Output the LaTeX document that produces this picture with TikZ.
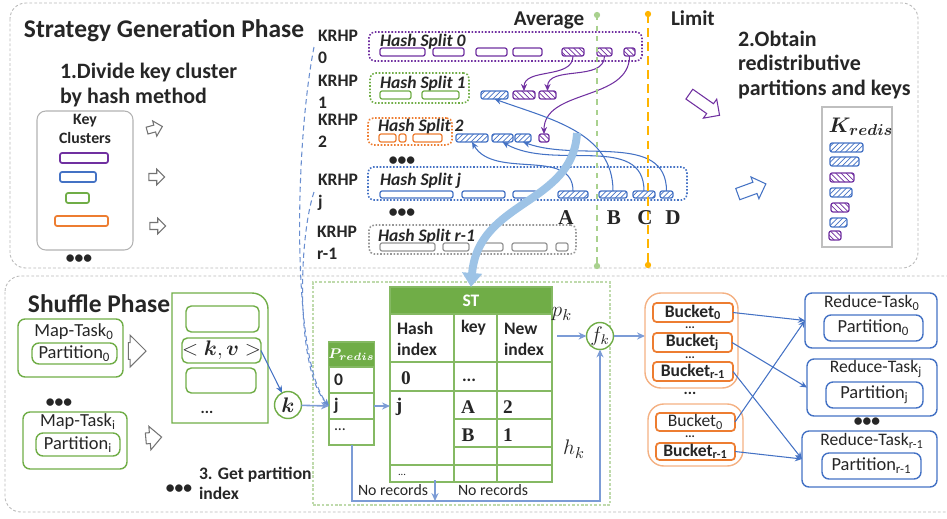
\documentclass[tikz,border=0pt]{standalone}
\usepackage{fontspec}
\setmainfont{Carlito}
\newfontfamily\timesf{Liberation Serif}
\usepackage{amsmath}
\usepackage{xcolor}
\definecolor{kpurple}{RGB}{112,48,160}
\definecolor{kblue}{RGB}{68,114,196}
\definecolor{kgreen}{RGB}{112,173,71}
\definecolor{korange}{RGB}{237,125,49}
\definecolor{kgray}{RGB}{150,150,150}
\definecolor{klightblue}{RGB}{157,195,230}
\definecolor{kavg}{RGB}{169,209,142}
\definecolor{klimit}{RGB}{255,180,0}
\definecolor{kpeach}{RGB}{244,177,131}
\definecolor{ktext}{RGB}{38,38,38}
\usepackage{tikz}
\usetikzlibrary{positioning,shapes.arrows,arrows.meta,patterns,calc}
\newcommand{\fsz}[2]{\fontsize{#1}{#2}\selectfont}
% caja por esquinas: estilo, nombre, x1, x2, y1, y2 (+ texto)
\newcommand{\kbox}[6]{\node[#1,minimum width={(#4-#3)*0.02cm},minimum height={(#6-#5)*0.02cm}] (#2) at ({(#3+#4)/2},{(#5+#6)/2}) {};}
\newcommand{\tbox}[7]{\node[#1,minimum width={(#4-#3)*0.02cm},minimum height={(#6-#5)*0.02cm}] (#2) at ({(#3+#4)/2},{(#5+#6)/2}) {#7};}

\begin{document}
\begin{tikzpicture}[x=0.02cm,y=-0.02cm,font=\fsz{10}{12},
  every node/.style={text=ktext,inner sep=0pt,outer sep=0pt},
  panel/.style={draw=gray!55,dash pattern=on 1.6pt off 1.2pt,rounded corners=9pt,line width=0.5pt},
  bar/.style={draw=#1,rounded corners=1.2pt,line width=0.7pt},
  pbar/.style={bar=#1,fill=white},
  hbar/.style={bar=#1,pattern=north east lines,pattern color=#1},
  vbar/.style={bar=#1,pattern=north west lines,pattern color=#1},
  splitbox/.style={draw=#1,densely dotted,rounded corners=3pt,line width=0.9pt},
  krhp/.style={anchor=west,align=left,font=\fsz{10}{12.5}\bfseries},
  splitlbl/.style={anchor=base west,font=\fsz{10}{12}\bfseries\itshape},
  letter/.style={anchor=base,font=\timesf\bfseries\fsz{12}{14}},
  dotrow/.style={font=\fsz{10}{10}\bfseries},
  smalldots/.style={font=\fsz{9}{9}\bfseries},
  tinydots/.style={font=\fsz{7}{7}\bfseries},
  harrow/.style={single arrow,draw=#1,fill=white,line width=0.6pt,minimum width=0pt},
  parr/.style={kpurple,line width=0.6pt,-{Stealth[length=4pt,width=3.5pt]}},
  barr/.style={kblue,line width=0.6pt,-{Stealth[length=4pt,width=3.5pt]}},
  larr/.style={kblue!70,line width=0.9pt,-{Stealth[length=4.5pt,width=4pt]}},
  tline/.style={draw=kgreen!85,line width=0.7pt},
  cell/.style={anchor=west,font=\fsz{10}{12}\bfseries},
  scell/.style={anchor=center,font=\timesf\bfseries\fsz{11}{13}},
  gbox/.style={draw=kgreen,rounded corners=4pt,line width=0.8pt},
  rbox/.style={draw=kblue,rounded corners=4pt,line width=0.8pt},
  bkt/.style={draw=korange,rounded corners=2pt,line width=1pt,font=\fsz{10}{11}\bfseries},
  bgrp/.style={draw=kpeach,rounded corners=9pt,line width=0.8pt},
  circ/.style={circle,draw=kgreen,line width=0.8pt,fill=white,minimum size=0.54cm},
]
\useasboundingbox (0,0) rectangle (947,518);
% paneles
\draw[panel] (10,3) rectangle (918,268);
\draw[panel] (5,276) rectangle (975,512);

% fase de estrategia
\node[anchor=base west,font=\fsz{14.5}{16}\bfseries] (sgp) at (24,37) {Strategy Generation Phase};
\node[anchor=west,align=left,font=\fsz{12.5}{14.7}\bfseries] (step1) at (60,85) {1.Divide key cluster\\by hash method};
\kbox{draw=gray!60,rounded corners=5pt,line width=0.6pt}{kcbox}{37}{133}{111}{250}
\node[align=center,font=\fsz{9}{10.8}\bfseries] (kclbl) at (85,129) {Key\\Clusters};
\kbox{pbar=kpurple,line width=1pt}{kc1}{60}{108}{153}{163}
\kbox{pbar=kblue,line width=1pt}{kc2}{60}{96}{172}{182}
\kbox{pbar=kgreen,line width=1pt}{kc3}{66}{89}{193}{203}
\kbox{pbar=korange,line width=1pt}{kc4}{55}{108}{216}{226}
\node[dotrow] (kcdots) at (79,259) {•••};
\node[harrow=black!55,single arrow head extend=2.5pt,inner ysep=1.7pt,minimum height=9pt,rotate=15] (ha1) at (153,129) {};
\node[harrow=black!55,single arrow head extend=2.5pt,inner ysep=1.7pt,minimum height=9pt] (ha2) at (155,177) {};
\node[harrow=black!55,single arrow head extend=2.5pt,inner ysep=1.7pt,minimum height=9pt] (ha3) at (156,226) {};

% etiquetas KRHP
\node[krhp] (krhp0) at (318,47) {KRHP\\0};
\node[krhp] (krhp1) at (318,92) {KRHP\\1};
\node[krhp] (krhp2) at (318,131) {KRHP\\2};
\node[krhp] (krhpj) at (318,192) {KRHP\\j};
\node[krhp] (krhpr) at (317,243) {KRHP\\r-1};

% Hash Split 0
\kbox{splitbox=kpurple}{s0}{369}{642}{32}{61}
\node[splitlbl] (s0l) at (380,46) {Hash Split 0};
\foreach \a/\b [count=\i] in {380/425,433/464,476/507,513/542} {\kbox{pbar=kpurple}{s0p\i}{\a}{\b}{48}{56}}
\foreach \a/\b [count=\i] in {562/584,597/612,624/635} {\kbox{vbar=kpurple}{s0h\i}{\a}{\b}{48}{56}}
% Hash Split 1
\kbox{splitbox=kgreen}{s1}{370}{469}{73}{103}
\node[splitlbl] (s1l) at (380,88) {Hash Split 1};
\foreach \a/\b [count=\i] in {380/411,422/459} {\kbox{pbar=kgreen}{s1g\i}{\a}{\b}{91}{99}}
\kbox{hbar=kblue}{s1b1}{481}{508}{91}{99}
\foreach \a/\b [count=\i] in {513/535,539/556} {\kbox{vbar=kpurple}{s1v\i}{\a}{\b}{91}{99}}
% Hash Split 2
\kbox{splitbox=korange}{s2}{368}{452}{118}{145}
\node[splitlbl] (s2l) at (378,131) {Hash Split 2};
\foreach \a/\b [count=\i] in {379/396,399/406,413/442} {\kbox{pbar=korange}{s2o\i}{\a}{\b}{134}{142}}
\foreach \a/\b [count=\i] in {456/488,492/513,515/531} {\kbox{hbar=kblue}{s2b\i}{\a}{\b}{134}{142}}
\kbox{vbar=kpurple}{s2v1}{539}{549}{134}{142}
\node[dotrow] (sdots1) at (402,161) {•••};
% Hash Split j
\kbox{splitbox=kblue}{sj}{368}{687}{167}{200}
\node[splitlbl] (sjl) at (380,185) {Hash Split j};
\foreach \a/\b [count=\i] in {380/453,462/505,513/537} {\kbox{pbar=kblue}{sjp\i}{\a}{\b}{191}{198}}
\foreach \n/\a/\b in {A/558/588,B/599/627,C/633/655,D/660/673} {\kbox{hbar=kblue}{sj\n}{\a}{\b}{191}{198}}
\node[dotrow] (sdots2) at (402,213) {•••};
% Hash Split r-1
\kbox{splitbox=kgray}{sr}{369}{576}{225}{254}
\node[splitlbl] (srl) at (378,241) {Hash Split r-1};
\foreach \a/\b [count=\i] in {380/435,443/469,478/503,512/547,556/568} {\kbox{pbar=kgray}{sr\i}{\a}{\b}{243}{251}}

% flechas entre splits
\draw[parr] (s0h1.south) to[out=-90,in=90] (s1v1.north);
\draw[parr] (s0h2.south) to[out=-90,in=90] (s1v2.north);
\draw[parr] (s0h3.south) to[out=-90,in=90] (s2v1.north);
\draw[barr] (sjA.north) to[out=90,in=-60] (s2b1.south);
\draw[barr] (sjB.north) to[out=90,in=-20] (s1b1.south);
\draw[barr] (sjC.north) to[out=90,in=-30] (s2b2.south);
\draw[barr] (sjD.north) to[out=90,in=-20] (s2b3.south);

% Average / Limit
\draw[kavg,dashed,line width=1.3pt] (597,15) -- (597,266);
\fill[kavg] (597,15) circle[radius=1.8pt] (597,266) circle[radius=1.8pt];
\draw[klimit,dash pattern=on 5pt off 3pt,line width=1.4pt] (648,14) -- (648,265);
\fill[klimit] (648,14) circle[radius=1.8pt] (648,265) circle[radius=1.8pt];
\node[font=\fsz{12}{14}\bfseries] (avg) at (549,20) {Average};
\node[anchor=west,font=\fsz{12}{14}\bfseries] (lim) at (671,18) {Limit};
\foreach \l/\x in {A/566,B/614,C/645,D/673} {\node[letter] (lt\l) at (\x,224) {\l};}

% redistribucion
\node[harrow=kpurple,minimum height=21pt,inner ysep=3.1pt,single arrow head extend=3.2pt,rotate=-35] (pa) at (702,103) {};
\node[harrow=kblue,minimum height=17pt,inner ysep=3.1pt,single arrow head extend=3.2pt,rotate=20] (ba) at (749,190) {};
\node[anchor=west,align=left,font=\fsz{12.5}{14.2}\bfseries] (step2) at (738,65) {2.Obtain\\redistributive\\partitions and keys};
\kbox{draw=gray!50,line width=0.6pt}{kr}{822}{892}{107}{247}
\node[font=\fsz{13}{15}] (krl) at (861,127) {$\boldsymbol{K_{redis}}$};
\foreach \c/\p/\a/\b/\y [count=\i] in {kblue/north east lines/830/863/143,kblue/north east lines/830/859/157,kpurple/north west lines/830/854/173,kblue/north east lines/830/852/188,kpurple/north west lines/831/849/203,kblue/north east lines/830/847/218,kpurple/north west lines/829/841/231}
  {\kbox{bar=\c,pattern=\p,pattern color=\c}{kr\i}{\a}{\b}{\y}{\y+9}}

% fase shuffle
\node[anchor=base west,font=\fsz{14.5}{16}\bfseries] (shp) at (28,312) {Shuffle Phase};
\kbox{gbox}{mt0}{18}{123}{319}{377}
\node[font=\fsz{10.5}{12}] (mt0l) at (74,332) {Map-Task\textsubscript{0}};
\tbox{gbox,font=\fsz{10.5}{12}}{pt0}{32}{117}{343}{364}{Partition\textsubscript{0}}
\node[dotrow] (mtdots) at (59,403) {•••};
\kbox{gbox}{mti}{23}{127}{412}{469}
\node[font=\fsz{10.5}{12}] (mtil) at (78,422) {Map-Task\textsubscript{i}};
\tbox{gbox,font=\fsz{10.5}{12}}{pti}{36}{120}{433}{456}{Partition\textsubscript{i}}
\node[harrow=black!55,minimum height=10pt,inner ysep=4.5pt,single arrow head extend=4.2pt] (ma0) at (133,351) {};
\node[harrow=black!55,minimum height=9pt,inner ysep=2.8pt,single arrow head extend=3.6pt,rotate=5] (mai) at (151,438) {};

% buffer
\draw[kgreen,line width=0.8pt] (172,423) -- (172,293) -- (252,293) to[out=0,in=90] (268,309) -- (268,423) -- cycle;
\kbox{gbox,rounded corners=3pt}{bf1}{186}{259}{306}{332}
\tbox{gbox,rounded corners=3pt,font=\fsz{12}{14}}{kv}{185}{258}{338}{363}{$<\boldsymbol{k},\boldsymbol{v}>$}
\kbox{gbox,rounded corners=3pt}{bf3}{186}{256}{368}{393}
\node[smalldots] (bfdots) at (207,412) {...};
\node[circ,font=\fsz{12}{14}] (kn) at (288,405) {$\boldsymbol{k}$};
\draw[barr] (kv.east) -- (kn);
\node[anchor=west,align=left,font=\fsz{10}{11.3}\bfseries] (step3) at (199,483) {3. Get partition\\index};
\node[dotrow] (s3dots) at (179,489) {•••};

% tablas P_redis y ST
\kbox{draw=kgreen!45,dash pattern=on 1.5pt off 1pt,line width=0.6pt}{starea}{313}{610}{282}{505}
\tbox{fill=kgreen,draw=kgreen!85,line width=0.7pt,text=white,font=\fsz{8.5}{10}}{ph}{329}{374}{342}{367}{$\boldsymbol{P_{redis}}$}
\draw[tline] (329,367) rectangle (374,445) (329,393) -- (374,393) (329,419) -- (374,419);
\node[cell] (p0) at (334,380) {0};
\node[cell] (pjl) at (334,406) {j};
\node[cell,font=\fsz{9}{10}] (pdl) at (334,430) {...};
\coordinate (pjin) at (329,406);
\coordinate (pjout) at (374,406);
\coordinate (pbot) at (352,445);
\tbox{fill=kgreen,draw=kgreen!85,line width=0.7pt,text=white,font=\fsz{10}{12}\bfseries}{sthead}{390}{552}{287}{314}{ST}
\draw[tline] (390,314) rectangle (552,482) (454,314) -- (454,482) (497,314) -- (497,482);
\draw[tline] (390,362) -- (552,362) (390,391) -- (552,391) (454,419) -- (552,419) (454,447) -- (552,447) (390,465) -- (552,465);
\node[cell,align=left] (sth1) at (397,339) {Hash\\index};
\node[cell] (sth2) at (461,328) {key};
\node[cell,align=left] (sth3) at (504,339) {New\\index};
\node[scell] (st0) at (406,378) {0};
\node[cell] (st0k) at (462,380) {...};
\node[scell] (stj) at (399,407) {j};
\node[scell] (stA) at (468,407) {A};
\node[scell] (st2) at (508,407) {2};
\node[scell] (stB) at (468,435) {B};
\node[scell] (st1) at (508,435) {1};
\node[font=\fsz{6}{7}] (stdots) at (402,475) {...};
\coordinate (stjin) at (390,406);
\coordinate (stbot) at (435,480);

% calculo de f_k
\node[circ,font=\fsz{12}{14}] (fk) at (600,336) {$f_k$};
\node[font=\fsz{13}{15}] (pk) at (562,314) {$p_k$};
\node[font=\fsz{13}{15}] (hk) at (574,449) {$h_k$};
\coordinate (pkin) at (557,336);
\coordinate (nrr) at (600,501);
\draw[larr] (kn) -- (pjin);
\draw[larr] (pjout) -- (stjin);
\draw[larr] (pkin) -- (fk);
\draw[larr] (pbot) |- (nrr) -- (fk.south);
\draw[larr] (stbot) -- (stbot |- nrr);
\node[font=\fsz{9}{11}] (nr1) at (393,490) {No records};
\node[font=\fsz{9}{11}] (nr2) at (493,490) {No records};

% KRHP hacia P_redis
\draw[kblue!80,densely dashed,line width=0.6pt,-{Stealth[length=4pt]}] ($(krhp0.west)+(-4,0)$) .. controls (294,150) and (292,360) .. (pjin);
\draw[kblue!80,densely dashed,line width=0.6pt,-{Stealth[length=4pt]}] ($(krhpj.west)+(-4,0)$) .. controls (298,240) and (296,370) .. (pjin);

% flecha grande hacia ST
\coordinate (arcs) at (577,133);
\draw[klightblue,line width=4.5pt,-{Triangle[length=8pt,width=11pt]}] (arcs) .. controls (573,205) and (478,200) .. (sthead.north);

% buckets
\draw[larr] (fk) -- (fk -| 645,0);
\kbox{bgrp}{bg1}{645}{738}{293}{388}
\tbox{bkt}{b10}{653}{733}{303}{322}{Bucket\textsubscript{0}}
\node[tinydots] (bd1) at (690,328) {...};
\tbox{bkt}{b1j}{653}{732}{333}{352}{Bucket\textsubscript{j}}
\node[tinydots] (bd2) at (690,357.5) {...};
\tbox{bkt}{b1r}{653}{733}{362}{381}{Bucket\textsubscript{r-1}}
\node[smalldots] (bd3) at (690,393) {...};
\kbox{bgrp}{bg2}{648}{743}{404}{466}
\tbox{bkt,font=\fsz{10}{11}}{b20}{656}{735}{413}{431}{Bucket\textsubscript{0}}
\node[tinydots] (bd4) at (690,437) {...};
\tbox{bkt}{b2r}{656}{735}{443}{460}{Bucket\textsubscript{r-1}}

% reduce
\kbox{rbox}{r0}{805}{937}{293}{348}
\node[font=\fsz{10}{12}] (r0l) at (872,303) {Reduce-Task\textsubscript{0}};
\tbox{rbox,font=\fsz{10.5}{12}}{rp0}{824}{923}{315}{341}{Partition\textsubscript{0}}
\kbox{rbox}{rj}{807}{937}{359}{416}
\node[font=\fsz{10}{12}] (rjl) at (876,369) {Reduce-Task\textsubscript{j}};
\tbox{rbox,font=\fsz{10.5}{12}}{rpj}{826}{923}{382}{408}{Partition\textsubscript{j}}
\node[dotrow] (rdots) at (867,422) {•••};
\kbox{rbox}{rr}{802}{937}{431}{487}
\node[font=\fsz{10}{12}] (rrl) at (872,441) {Reduce-Task\textsubscript{r-1}};
\tbox{rbox,font=\fsz{10.5}{12}}{rpr}{822}{921}{453}{479}{Partition\textsubscript{r-1}}
\draw[barr] (b10.east) -- (r0.west);
\draw[barr] (b1j.east) -- (rj.west);
\draw[barr] (b1r.east) -- (rr.west);
\draw[barr] (b20.east) -- (r0.west);
\draw[barr] (b2r.east) -- (rr.west);
\end{tikzpicture}
\end{document}
